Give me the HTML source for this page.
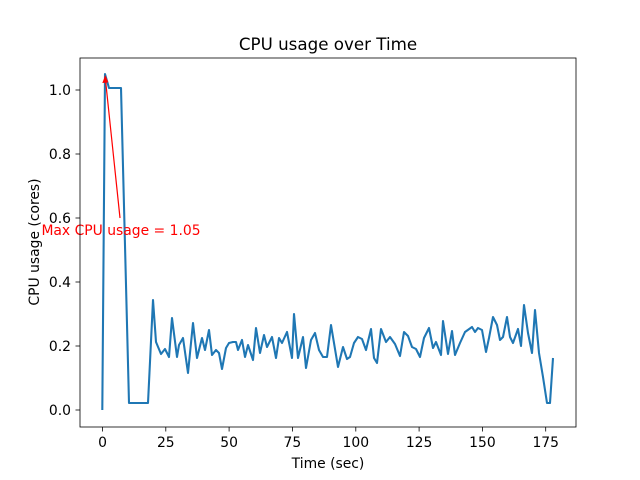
<!DOCTYPE html>
<html><head><meta charset="utf-8"><style>body{margin:0;background:#fff}svg{display:block}text{font-family:"DejaVu Sans","Liberation Sans",sans-serif}</style></head>
<body>
<svg width="640" height="480" viewBox="0 0 640 480" xmlns="http://www.w3.org/2000/svg">
<rect width="640" height="480" fill="#fff"/>
<text x="328" y="50" font-size="16.7" text-anchor="middle">CPU usage over Time</text>
<polyline fill="none" stroke="#1f77b4" stroke-width="2.08" stroke-linejoin="round" points="102.3,410 105,74 109,88 121,88 129,403 148,403 153,300 156,342 161,354 165,349 169,357 172,318 177,357 179,345 183,338 188,373 193,323 197,358 202,338 205,350 209,330 212,355 216,350 219,353 222,369 226,348 229,343 233,342 236,342 238,350 242,340 245,357 248,345 253,360 256,328 260,353 264,335 267,347 272,337 276,358 279,338 282,343 287,332 292,358 294,314 298,358 303,337 306,368 311,340 315,333 319,350 323,357 327,357 331,325 334,343 338,367 343,347 347,359 350,357 354,343 358,337 362,339 366,350 371,329 374,358 377,363 381,329 386,342 390,337 395,344 400,356 404,332 408,336 412,347 416,349 420,357 424,338 429,328 433,348 436,342 441,355 443,321 448,354 452,331 455,355 460,343 465,332 472,327 475,332 478,328 482,330 486,352 489,338 493,317 497,325 500,340 503,337 507,317 510,337 513,343 518,329 521,346 524,305 528,333 532,353 535,310 539,353 543,377 547,403 550,403 553,358"/>
<line x1="120" y1="218" x2="105.5" y2="80" stroke="#f00" stroke-width="1.2"/>
<path d="M105.3,75 L102.3,83 L108.3,82.4 Z" fill="#f00"/>
<text x="121" y="235" font-size="13.9" fill="#f00" text-anchor="middle">Max CPU usage = 1.05</text>
<rect x="80" y="58" width="496" height="369" fill="none" stroke="#000" stroke-width="0.8"/>
<g stroke="#000" stroke-width="0.8">
<line x1="102.5" y1="427" x2="102.5" y2="431.5"/><line x1="165.8" y1="427" x2="165.8" y2="431.5"/><line x1="229.1" y1="427" x2="229.1" y2="431.5"/><line x1="292.4" y1="427" x2="292.4" y2="431.5"/><line x1="355.8" y1="427" x2="355.8" y2="431.5"/><line x1="419.1" y1="427" x2="419.1" y2="431.5"/><line x1="482.4" y1="427" x2="482.4" y2="431.5"/><line x1="545.7" y1="427" x2="545.7" y2="431.5"/>
<line x1="80" y1="410" x2="75.5" y2="410"/><line x1="80" y1="346" x2="75.5" y2="346"/><line x1="80" y1="282" x2="75.5" y2="282"/><line x1="80" y1="218" x2="75.5" y2="218"/><line x1="80" y1="154" x2="75.5" y2="154"/><line x1="80" y1="90" x2="75.5" y2="90"/>
</g>
<g font-size="13.9" text-anchor="middle">
<text x="102.5" y="447">0</text><text x="165.8" y="447">25</text><text x="229.1" y="447">50</text><text x="292.4" y="447">75</text><text x="355.8" y="447">100</text><text x="419.1" y="447">125</text><text x="482.4" y="447">150</text><text x="545.7" y="447">175</text>
</g>
<g font-size="13.9" text-anchor="end">
<text x="71" y="415">0.0</text><text x="71" y="351">0.2</text><text x="71" y="287">0.4</text><text x="71" y="223">0.6</text><text x="71" y="159">0.8</text><text x="71" y="95">1.0</text>
</g>
<text x="328" y="468" font-size="13.9" text-anchor="middle">Time (sec)</text>
<text transform="translate(39,242) rotate(-90)" font-size="13.9" text-anchor="middle">CPU usage (cores)</text>
</svg>
</body></html>
